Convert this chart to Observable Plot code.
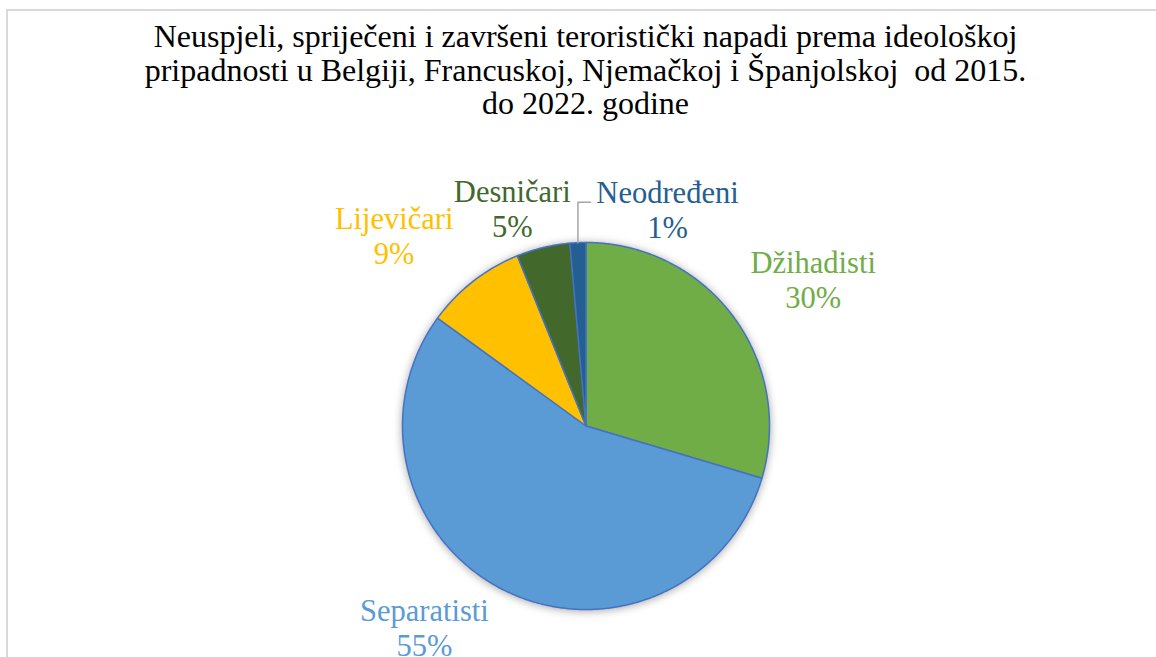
<!DOCTYPE html>
<html>
<head>
<meta charset="utf-8">
<script src="https://cdn.jsdelivr.net/npm/d3@7"></script>
<script src="https://cdn.jsdelivr.net/npm/@observablehq/plot@0.6"></script>
<style>
  html, body { margin: 0; padding: 0; background: #fff; overflow: hidden; }
  #wrap { position: relative; width: 1156px; height: 657px; }
  #frame { position: absolute; left: 6px; top: 9px; width: 1300px; height: 800px;
           border-top: 2px solid #d9d9d9; border-left: 2px solid #d9d9d9; box-sizing: border-box; }
  #title { position: absolute; left: 0; top: 20px; width: 1171px; text-align: center;
           font-family: "Liberation Serif", "Times New Roman", serif; font-size: 32px;
           line-height: 33.5px; color: #000; }
  #chart { position: absolute; left: 0; top: 130px; }
</style>
</head>
<body>
<div id="wrap">
  <div id="frame"></div>
  <div id="title">Neuspjeli, spriječeni i završeni teroristički napadi prema ideološkoj<br>pripadnosti u Belgiji, Francuskoj, Njemačkoj i Španjolskoj&nbsp; od 2015.<br>do 2022. godine</div>
  <div id="chart"></div>
</div>
<script>
// ---- data ----
const categories = ["Džihadisti", "Separatisti", "Lijevičari", "Desničari", "Neodređeni"];
const shares = [29.6, 55.4, 8.9, 4.7, 1.4];
const colors = ["#70AD47", "#5B9BD5", "#FFC000", "#43682B", "#255E91"];

// ---- layout (pixels) ----
const W = 1156, H = 527;
const cx = 585.5, cy = 295.5, R = 183.5;
const labelRadius = 1.3;
const labelNudge = [[36, -4], [-56, -13], [-45, -3], [-18, 14], [92, 22]];
const leaderFor = "Neodređeni";
const font = "Liberation Serif, Times New Roman, serif";

const total = d3.sum(shares);
let acc = 0;
const slices = categories.map((name, i) => {
  const a0 = acc / total * 2 * Math.PI;
  acc += shares[i];
  const a1 = acc / total * 2 * Math.PI;
  return {name, a0, a1, mid: (a0 + a1) / 2, pct: Math.round(shares[i] / total * 100) + "%"};
});

// polygon points of every slice (angle clockwise from top)
const slicePts = [];
for (const s of slices) {
  slicePts.push({name: s.name, x: 0, y: 0});
  const n = Math.max(2, Math.ceil((s.a1 - s.a0) / (Math.PI / 360)));
  for (let k = 0; k <= n; k++) {
    const a = s.a0 + (s.a1 - s.a0) * k / n;
    slicePts.push({name: s.name, x: Math.sin(a), y: Math.cos(a)});
  }
  slicePts.push({name: s.name, x: 0, y: 0});
}

const labels = slices.map((s, i) => ({
  name: s.name,
  text: s.name + "\n" + s.pct,
  x: labelRadius * Math.sin(s.mid) + labelNudge[i][0] / R,
  y: labelRadius * Math.cos(s.mid) - labelNudge[i][1] / R
}));

const ls = slices.find(s => s.name === leaderFor);
const ll = labels.find(l => l.name === leaderFor);
const leaderPts = [
  {x: Math.sin(ls.mid), y: Math.cos(ls.mid)},
  {x: Math.sin(ls.mid), y: ll.y + 7.5 / R},
  {x: ll.x - 77 / R, y: ll.y + 7.5 / R}
];

const plot = Plot.plot({
  width: W, height: H, margin: 0,
  style: {background: "transparent", overflow: "visible"},
  x: {domain: [-1, 1], range: [cx - R, cx + R], axis: null},
  y: {domain: [-1, 1], range: [cy + R, cy - R], axis: null},
  color: {domain: categories, range: colors},
  marks: [
    Plot.line(slicePts, {x: "x", y: "y", z: "name", fill: "name", stroke: "#4472C4",
      strokeWidth: 1.5, strokeLinejoin: "round"}),
    Plot.line(leaderPts, {x: "x", y: "y", stroke: "#a6a6a6", strokeWidth: 1.5}),
    Plot.text(labels, {x: "x", y: "y", text: "text", fill: "name", fontSize: 30.5,
      fontFamily: font, lineHeight: 1.15, textAnchor: "middle"})
  ]
});
const pieG = plot.querySelector('g[aria-label="line"]');
if (pieG) pieG.style.filter = "drop-shadow(0px 1px 4px rgba(0,0,0,0.35))";
document.getElementById("chart").appendChild(plot);
</script>
</body>
</html>
